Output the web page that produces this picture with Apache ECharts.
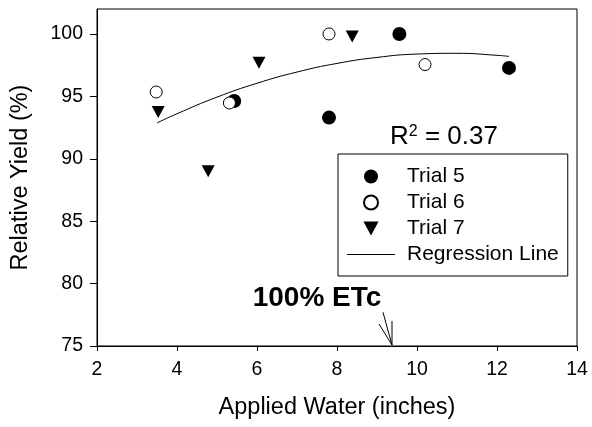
<!DOCTYPE html>
<html>
<head>
<meta charset="utf-8">
<script src="https://cdn.jsdelivr.net/npm/echarts@6/dist/echarts.min.js"></script>
<style>html,body{margin:0;padding:0;background:#fff}#c{width:592px;height:427px}</style>
</head>
<body>
<div id="c"></div>
<script>
// Data
var trial5 = [[5.43, 94.63], [7.8, 93.3], [9.56, 100.0], [12.3, 97.28]];
var trial6 = [[3.48, 95.35], [5.31, 94.47], [7.8, 100.0], [10.2, 97.55]];
var trial7 = [[3.53, 93.75], [4.78, 89.0], [6.05, 97.7], [8.38, 99.8]];
var regressionLine = [[3.5, 92.87], [4, 93.61], [5, 94.94], [6, 96.05], [7, 96.95], [8, 97.64],
  [9, 98.12], [10, 98.39], [11, 98.45], [12, 98.29], [12.3, 98.2]];
var yTicks = [75, 80, 85, 90, 95, 100];
var xTicks = [2, 4, 6, 8, 10, 12, 14];
var r2Label = '{r|R}{s|2}{r| = 0.37}';
var etcLabel = '100% ETc';
var etcArrow = [[9.15, 77.7], [9.375, 75.08]];

var FONT = '"Liberation Sans", Arial, sans-serif';
var chart = echarts.init(document.getElementById('c'), null, {renderer: 'canvas'});

var option = {
  animation: false,
  backgroundColor: '#fff',
  grid: {left: 97, right: 15, top: 9, bottom: 81, show: true, borderColor: '#000', borderWidth: 1, backgroundColor: 'transparent'},
  xAxis: {
    type: 'value', min: xTicks[0], max: xTicks[xTicks.length - 1], interval: 2,
    name: 'Applied Water (inches)', nameLocation: 'middle', nameGap: 50,
    nameTextStyle: {fontFamily: FONT, fontSize: 23.5, color: '#000'},
    axisLine: {show: true, lineStyle: {color: '#000', width: 1}},
    axisTick: {show: true, length: 5, lineStyle: {color: '#000'}},
    axisLabel: {fontFamily: FONT, fontSize: 19.5, color: '#000', margin: 14},
    splitLine: {show: false}
  },
  yAxis: {
    type: 'value', min: 75, max: 102,
    name: 'Relative Yield (%)', nameLocation: 'middle', nameGap: 64,
    nameTextStyle: {fontFamily: FONT, fontSize: 23.5, color: '#000'},
    axisLine: {show: true, lineStyle: {color: '#000', width: 1}},
    axisTick: {show: true, length: 7, customValues: yTicks, lineStyle: {color: '#000'}},
    axisLabel: {fontFamily: FONT, fontSize: 19.5, color: '#000', margin: 14, customValues: yTicks},
    splitLine: {show: false}
  },
  legend: {
    orient: 'vertical', left: 338, top: 154,
    padding: [12, 9, 11, 9],
    itemWidth: 48, itemHeight: 14, itemGap: 5,
    borderColor: '#000', borderWidth: 1, backgroundColor: '#fff',
    textStyle: {fontFamily: FONT, fontSize: 21, color: '#000', lineHeight: 21, padding: [0, 0, 0, 7]},
    data: [
      {name: 'Trial 5'},
      {name: 'Trial 6'},
      {name: 'Trial 7', icon: 'path://M0,0L13,0L6.5,12Z'},
      {name: 'Regression Line', icon: 'path://M0,0H48V1H0Z'}
    ]
  },
  series: [
    {name: 'Regression Line', type: 'line', data: regressionLine, smooth: true, showSymbol: false, symbol: 'none',
      lineStyle: {color: '#000', width: 1}, itemStyle: {color: '#000'}, z: 1},
    {name: 'Trial 5', type: 'scatter', data: trial5, symbol: 'circle', symbolSize: 14,
      itemStyle: {color: '#000', opacity: 1}, z: 2},
    {name: 'Trial 6', type: 'scatter', data: trial6, symbol: 'circle', symbolSize: 12,
      itemStyle: {color: '#fff', borderColor: '#000', borderWidth: 1, opacity: 1}, z: 3},
    {name: 'Trial 7', type: 'scatter', data: trial7, symbol: 'triangle', symbolRotate: 180, symbolSize: [13, 12],
      itemStyle: {color: '#000', opacity: 1}, z: 4}
  ]
};
chart.setOption(option);

var tip = chart.convertToPixel({gridIndex: 0}, etcArrow[1]);
var tail = chart.convertToPixel({gridIndex: 0}, etcArrow[0]);
chart.setOption({
  graphic: [
    {type: 'text', left: 390, top: 124, style: {text: r2Label, fill: '#000',
      rich: {r: {fontFamily: FONT, fontSize: 26, lineHeight: 26, verticalAlign: 'bottom'},
             s: {fontFamily: FONT, fontSize: 16, lineHeight: 26, verticalAlign: 'top', padding: [0, 0, 10, 0]}}}},
    {type: 'text', x: 317, y: 298, style: {text: etcLabel, font: 'bold 28px ' + FONT, fill: '#000', textAlign: 'center', textVerticalAlign: 'middle'}},
    {type: 'line', shape: {x1: tail[0], y1: tail[1], x2: tip[0], y2: tip[1]}, style: {stroke: '#000', lineWidth: 1}},
    {type: 'line', shape: {x1: tip[0], y1: tip[1] - 24, x2: tip[0], y2: tip[1]}, style: {stroke: '#000', lineWidth: 1}},
    {type: 'line', shape: {x1: tip[0] - 13, y1: tip[1] - 21, x2: tip[0], y2: tip[1]}, style: {stroke: '#000', lineWidth: 1}}
  ]
});
</script>
</body>
</html>
